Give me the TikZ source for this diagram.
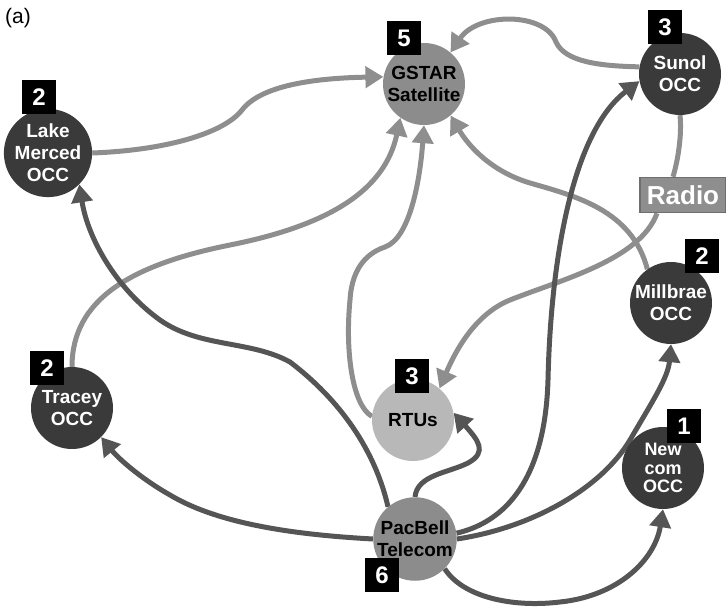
\documentclass[tikz,border=0pt]{standalone}
\usepackage{fontspec}
\setmainfont{Liberation Sans}
\usetikzlibrary{arrows.meta}
\usetikzlibrary{backgrounds}
\definecolor{occdark}{HTML}{3A3A3A}
\definecolor{hubgray}{HTML}{8C8C8C}
\definecolor{rtugray}{HTML}{B8B8B8}
\definecolor{satlink}{HTML}{8E8E8E}
\definecolor{telelink}{HTML}{555555}
\definecolor{radioedge}{HTML}{6E6E6E}
\def\rad{82pt}

\begin{document}
\begin{tikzpicture}[x=1pt, y=-1pt]
	\tikzstyle{site} = [circle, minimum size=\rad, inner sep=0pt, align=center, font=\fontsize{19}{22}\selectfont\bfseries]
	\tikzstyle{occ} = [site, fill=occdark, text=white]
	\tikzstyle{hub} = [site, fill=hubgray, text=black]
	\tikzstyle{badge} = [fill=black, text=white, minimum size=34pt, inner sep=0pt, font=\fontsize{24}{24}\selectfont\bfseries]
	\tikzstyle{satline} = [draw=satlink, line width=5pt]
	\tikzstyle{sat} = [satline, -{Triangle[length=18pt, width=21pt]}]
	\tikzstyle{tel} = [draw=telelink, line width=5pt, -{Triangle[length=18pt, width=21pt]}]
	\useasboundingbox (0,0) rectangle (726,608);

	\node [font=\fontsize{21}{21}\selectfont] (tag) at (18,18) {(a)};

	%%Sites
	\node [hub] (gs) at (424,84) {GSTAR\\Satellite};
	\node [occ] (lm) at (48,153) {Lake\\Merced\\OCC};
	\node [occ] (su) at (680,74) {Sunol\\OCC};
	\node [occ] (mb) at (671,303) {Millbrae\\OCC};
	\node [occ] (tr) at (72,408) {Tracey\\OCC};
	\node [site, fill=rtugray] (rtu) at (413,420) {RTUs};
	\node [occ, font=\fontsize{18}{18.5}\selectfont\bfseries] (nc) at (663,468) {New\\com\\OCC};
	\node [hub] (pb) at (415,539) {PacBell\\Telecom};
	\node [draw=radioedge, fill=satlink, line width=1.5pt, text=white, minimum width=86pt, minimum height=35pt, font=\fontsize{26}{26}\selectfont\bfseries] (radio) at (683,195) {Radio};

	%%Counts
	\node [badge] (b5) at (404,38) {5};
	\node [badge] (blm) at (39,97) {2};
	\node [badge] (bsu) at (665,27) {3};
	\node [badge] (bmb) at (702,256) {2};
	\node [badge] (btr) at (47,368) {2};
	\node [badge] (brtu) at (412,376) {3};
	\node [badge] (bnc) at (684,426) {1};
	\node [badge] (b6) at (382,575) {6};

	\begin{scope}[on background layer]
	%%Satellite links
	\draw [sat] (lm.east) .. controls (170,150) and (225,132) .. (242,110) .. controls (262,84) and (320,78) .. (gs.170);
	\draw [sat] (tr.north) .. controls (72,300) and (130,265) .. (230,245) .. controls (330,225) and (385,190) .. (gs.235);
	\draw [sat] (rtu.175) .. controls (352,405) and (345,350) .. (350,300) .. controls (352,265) and (370,252) .. (385,247) .. controls (410,238) and (420,180) .. (gs.south);
	\draw [sat] (mb.125) .. controls (632,210) and (575,196) .. (530,183) .. controls (490,171) and (468,145) .. (gs.-50);
	\draw [sat] (su.170) .. controls (600,66) and (565,62) .. (556,42) .. controls (545,12) and (478,12) .. (gs.50);
	\draw [satline] (su.south) .. controls (682,135) and (678,160) .. ([xshift=-10pt]radio.north);
	\draw [sat] ([xshift=-26pt]radio.south) .. controls (640,260) and (560,280) .. (510,300) .. controls (478,313) and (458,345) .. (rtu.50);

	%%Telecom links
	\draw [tel] (pb.130) .. controls (375,450) and (340,400) .. (290,362) .. controls (250,340) and (200,348) .. (160,320) .. controls (118,290) and (88,240) .. (lm.-45);
	\draw [tel] (pb.west) .. controls (300,535) and (220,525) .. (170,495) .. controls (140,478) and (118,458) .. (tr.-45);
	\draw [tel] (pb.north) .. controls (417,475) and (448,473) .. (468,463) .. controls (488,452) and (478,440) .. (rtu.10);
	\draw [tel] (pb.8) .. controls (505,522) and (545,480) .. (548,380) .. controls (551,250) and (575,130) .. (su.190);
	\draw [tel] (pb.0) .. controls (530,528) and (600,490) .. (630,440) .. controls (652,402) and (668,378) .. (mb.south);
	\draw [tel] (pb.-45) .. controls (462,596) and (510,608) .. (560,602) .. controls (618,596) and (655,560) .. (nc.south);
	\end{scope}
\end{tikzpicture}
\end{document}
